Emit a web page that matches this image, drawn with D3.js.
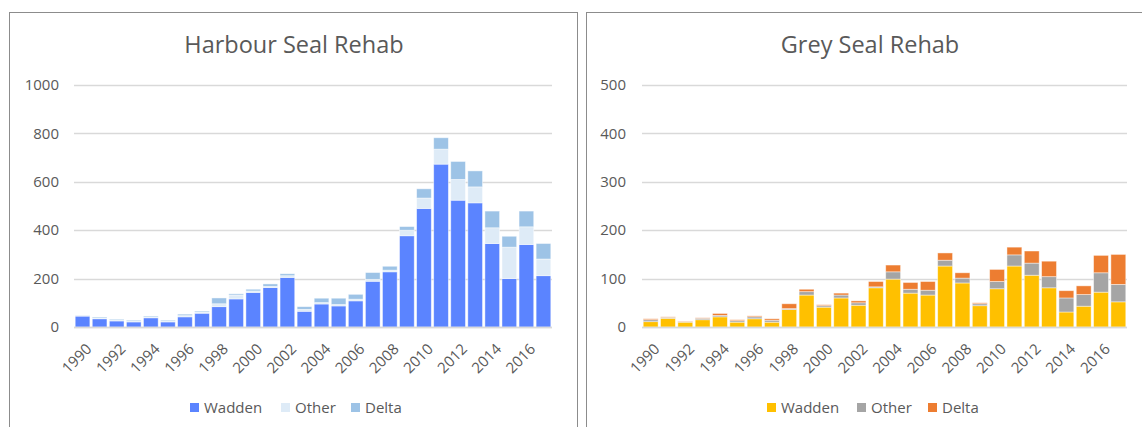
<!DOCTYPE html>
<meta charset="utf-8">
<style>
  body, html { margin:0; padding:0; background:#fff; }
  svg { display:block; }
  text { font-family: "Open Sans", "Liberation Sans", sans-serif; fill:#595959; }
</style>
<body>
<svg width="1142" height="427"></svg>
<script src="https://d3js.org/d3.v7.min.js"></script>
<script>

var years = d3.range(1990, 2018);
var seriesNames = ["Wadden", "Other", "Delta"];

// harbour seal counts per year
var harbourWadden = [45,34,25,21,38,21,42,57,84,116,143,163,205,65,95,87,108,189,228,377,490,673,524,513,345,200,341,212];
var harbourOther  = [3,3,3,3,3,3,5,5,12,16,6,5,7,8,6,6,7,8,7,23,43,62,86,66,65,130,73,69];
var harbourDelta  = [1,4,4,4,4,4,6,4,24,5,7,10,8,11,18,26,20,28,16,15,38,47,74,66,69,45,65,64];

// grey seal counts per year
var greyWadden = [11,18,10,15,21,10,17,10,36,66,41,60,45,81,99,70,66,126,91,44,79,126,107,81,31,43,72,52];
var greyOther  = [4,2,1,3,3,3,4,4,2,7,3,6,5,2,15,8,10,12,10,4,15,23,25,23,29,24,40,36];
var greyDelta  = [2,1,1,1,4,2,2,3,10,5,2,4,4,11,14,14,18,15,11,2,25,16,25,32,15,18,36,62];

var harbourTicks = [0,200,400,600,800,1000];
var greyTicks = [0,100,200,300,400,500];

var svg = d3.select("svg");
svg.append("rect").attr("width",1142).attr("height",427).attr("fill","#fff");

function rows(w, o, d) {
    return years.map(function(y, i) {
        return {year: y, Wadden: w[i], Other: o[i], Delta: d[i]};
    });
}

function drawChart(opt) {
    var g = svg.append("g");

    g.append("rect")
        .attr("x", opt.box[0] + 0.5).attr("y", 12.5)
        .attr("width", opt.box[1] - opt.box[0]).attr("height", 440)
        .attr("fill", "none").attr("stroke", "#8c8c8c").attr("stroke-width", 1);

    var x = d3.scaleBand()
        .domain(years)
        .range(opt.xr)
        .paddingInner(0.14)
        .paddingOuter(0.07);

    var y = d3.scaleLinear()
        .domain([0, opt.ticks[opt.ticks.length - 1]])
        .range([327, 85]);

    g.append("g").selectAll("line")
        .data(opt.ticks)
        .enter().append("line")
        .attr("x1", opt.xr[0]).attr("x2", opt.xr[1])
        .attr("y1", function(d) { return Math.round(y(d)) + 0.5; })
        .attr("y2", function(d) { return Math.round(y(d)) + 0.5; })
        .attr("stroke", "#d9d9d9")
        .attr("stroke-width", 1.5);

    g.append("g").selectAll("text")
        .data(opt.ticks)
        .enter().append("text")
        .attr("x", opt.labelX)
        .attr("y", function(d) { return y(d); })
        .attr("dy", "0.35em")
        .attr("text-anchor", "end")
        .style("font-size", "15px")
        .text(function(d) { return d; });

    var stacked = d3.stack().keys(seriesNames)(opt.data);

    g.append("g").selectAll("g")
        .data(stacked)
        .enter().append("g")
        .attr("fill", function(d, i) { return opt.colors[i]; })
        .selectAll("rect")
        .data(function(d) { return d; })
        .enter().append("rect")
        .attr("x", function(d) { return x(d.data.year); })
        .attr("width", x.bandwidth())
        .attr("y", function(d) { return y(d[1]); })
        .attr("height", function(d) { return y(d[0]) - y(d[1]); })
        .attr("stroke", "rgba(255,255,255,0.55)")
        .attr("stroke-width", 0.8);

    // baseline drawn on top
    g.append("line")
        .attr("x1", opt.xr[0]).attr("x2", opt.xr[1])
        .attr("y1", 327.5).attr("y2", 327.5)
        .attr("stroke", "#d9d9d9").attr("stroke-width", 1.5);

    g.append("g").selectAll("text")
        .data(years.filter(function(d) { return d % 2 == 0; }))
        .enter().append("text")
        .attr("transform", function(d) {
            return "translate(" + (x(d) + x.bandwidth() / 2 + 10) + ",350) rotate(-45)";
        })
        .attr("text-anchor", "end")
        .style("font-size", "15px")
        .text(function(d) { return d; });

    g.append("text")
        .attr("x", opt.titleX)
        .attr("y", 53)
        .attr("text-anchor", "middle")
        .style("font-size", "23.5px")
        .text(opt.title);

    var legend = g.append("g").selectAll("g")
        .data(seriesNames)
        .enter().append("g")
        .attr("transform", function(d, i) {
            return "translate(" + opt.legendX[i] + ",0)";
        });

    legend.append("rect")
        .attr("x", 0).attr("y", 403)
        .attr("width", 9).attr("height", 9)
        .attr("fill", function(d, i) { return opt.colors[i]; });

    legend.append("text")
        .attr("x", 14).attr("y", 413)
        .style("font-size", "15px")
        .text(function(d) { return d; });
}

drawChart({
    title: "Harbour Seal Rehab",
    titleX: 294,
    box: [9, 577],
    xr: [74, 552],
    labelX: 59,
    ticks: harbourTicks,
    data: rows(harbourWadden, harbourOther, harbourDelta),
    colors: ["#5b84ff", "#deebf7", "#9dc3e6"],
    legendX: [190, 281, 351]
});

drawChart({
    title: "Grey Seal Rehab",
    titleX: 870,
    box: [586, 1190],
    xr: [642, 1127],
    labelX: 626,
    ticks: greyTicks,
    data: rows(greyWadden, greyOther, greyDelta),
    colors: ["#ffc000", "#a5a5a5", "#ed7d31"],
    legendX: [767, 857, 928]
});

</script>
</body>
